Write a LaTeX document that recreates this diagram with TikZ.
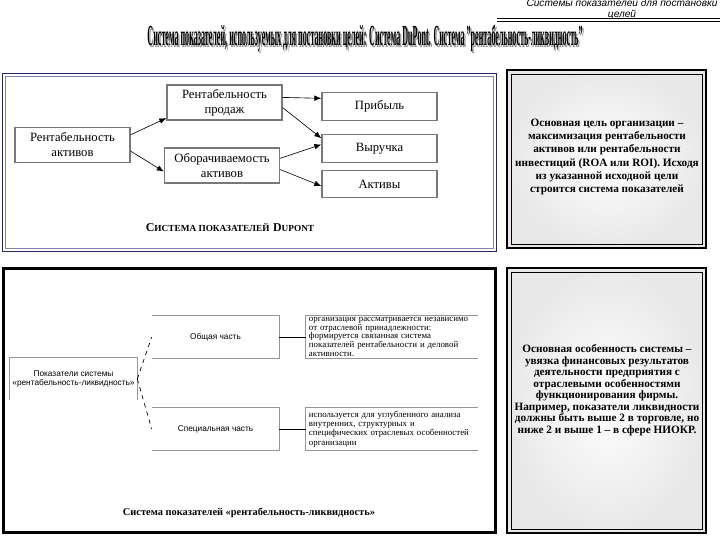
\documentclass[tikz,border=0pt]{standalone}
\usepackage{fontspec}
\setmainfont{Liberation Serif}
\setsansfont{Liberation Sans}
\usepackage{graphicx}
\usepackage{xcolor}
\definecolor{panelnavy}{RGB}{38,38,96}
\definecolor{panelslate}{RGB}{130,130,170}
\definecolor{boxgray}{RGB}{120,120,120}
\definecolor{linegray}{RGB}{150,150,150}
\definecolor{shadegray}{RGB}{232,232,232}
\definecolor{titleshade}{RGB}{150,150,150}
\usepackage{tikz}
\usetikzlibrary{arrows.meta, positioning}

\newcommand{\dpcaps}[2]{{\fontsize{8.5}{8.5}\selectfont #1}{\fontsize{6.6}{6.6}\selectfont #2}}

\tikzset{
  dpbox/.style={draw=boxgray, line width=0.9pt, minimum width=2.875cm, minimum height=0.875cm,
    align=center, inner sep=0pt, font=\fontsize{9}{10.7}\selectfont},
  dpsmall/.style={dpbox, minimum height=0.69cm},
  dparrow/.style={-{Latex[length=5pt,width=4pt]}, line width=0.45pt},
  rlbox/.style={minimum width=3.175cm, minimum height=1.05cm, align=center, inner sep=0pt,
    font=\sffamily\fontsize{5.9}{7.1}\selectfont},
  rltext/.style={minimum width=4.3cm, minimum height=1.05cm, text width=4.15cm, align=left,
    inner sep=1.5pt, font=\fontsize{6.3}{5.8}\selectfont},
  rlline/.style={draw=linegray, line width=0.5pt},
  notetext/.style={align=center, inner sep=0pt, font=\bfseries\fontsize{8}{9.5}\selectfont},
  panelblack/.style={draw=black, line width=2.1pt},
}

\begin{document}
\begin{tikzpicture}[x=0.025cm, y=-0.025cm]
  \useasboundingbox (0,0) rectangle (720,540);

  % Header
  \node[font=\sffamily\itshape\fontsize{7.2}{7.8}\selectfont, align=center] (header) at (622,9.5)
    {Системы показателей для постановки\\целей};
  \draw[line width=0.9pt] (497,18.5) -- (720,18.5);
  \draw[line width=0.5pt] (497,21.5) -- (720,21.5);

  \node[text=titleshade, font=\bfseries] (titleshadow) at (366.5,40)
    {\resizebox{10.875cm}{0.52cm}{Система показателей, используемых для постановки целей: Система DuPont. Система "рентабельность-ликвидность"}};
  \node[font=\bfseries] (title) at (365,38.5)
    {\resizebox{10.875cm}{0.52cm}{Система показателей, используемых для постановки целей: Система DuPont. Система "рентабельность-ликвидность"}};

  % Panels
  \draw[draw=panelnavy, line width=1.4pt] (2.5,73.5) rectangle (496.5,251.5);
  \draw[draw=panelslate, line width=0.5pt] (5.5,76.5) rectangle (493.5,248.5);

  \shade[inner color=white, outer color=shadegray] (507,70) rectangle (706,248);
  \draw[panelblack] (507,70) rectangle (706,248);
  \draw[line width=0.4pt] (511,74) rectangle (702,244);

  \draw[panelblack] (3.5,268.5) rectangle (495.5,532.5);

  \shade[inner color=white, outer color=shadegray] (507,268) rectangle (706,533);
  \draw[panelblack] (507,268) rectangle (706,533);
  \draw[line width=0.4pt] (511,272) rectangle (702,529);

  % DuPont system
  \node[dpbox] (ra) at (72.5,145) {Рентабельность\\активов};
  \node[dpbox] (rp) at (224.5,102.5) {Рентабельность\\продаж};
  \node[dpbox] (oa) at (222,165.5) {Оборачиваемость\\активов};
  \node[dpsmall] (pr) at (379.5,106.5) {Прибыль};
  \node[dpsmall] (vy) at (379.5,148.5) {Выручка};
  \node[dpsmall] (ak) at (379.5,184) {Активы};

  \draw[dparrow] (ra.10) -- (rp.195);
  \draw[dparrow] (ra.-6) -- (oa.186);
  \draw[dparrow] (rp.5) -- (pr.172);
  \draw[dparrow] (rp.-5) -- (vy.170);
  \draw[dparrow] (oa.7) -- (vy.176);
  \draw[dparrow] (oa.-4) -- (ak.182);

  \node[font=\bfseries] (dpcaption) at (230,228)
    {\dpcaps{С}{ИСТЕМА ПОКАЗАТЕЛЕЙ} \dpcaps{D}{UPONT}};

  \node[notetext] (dpnote) at (607,157)
    {Основная цель организации --\\максимизация рентабельности\\активов или рентабельности\\инвестиций (ROA или ROI). Исходя\\из указанной исходной цели\\строится система показателей};

  % Profitability-liquidity system
  \node[rlbox] (pk) at (73.5,379) {Показатели системы\\«рентабельность-ликвидность»};
  \node[rlbox] (ob) at (215.5,337) {Общая часть};
  \node[rlbox] (sp) at (215.5,429) {Специальная часть};
  \node[rltext] (t1) at (392,337)
    {организация рассматривается независимо\\от отраслевой принадлежности:\\формируется связанная система\\показателей рентабельности и деловой\\активности.};
  \node[rltext, font=\fontsize{6.3}{6.7}\selectfont] (t2) at (392,429)
    {используется для углубленного анализа\\внутренних, структурных и\\специфических отраслевых особенностей\\организации};

  \draw[rlline] (pk.south west) -- (pk.north west) -- (pk.north east) -- (pk.south east);
  \draw[rlline] (ob.north west) -- (ob.north east) -- (ob.south east) -- (ob.south west);
  \draw[rlline] (sp.north west) -- (sp.north east) -- (sp.south east) -- (sp.south west);
  \draw[rlline] (t1.north east) -- (t1.north west) -- (t1.south west) -- (t1.south east);
  \draw[rlline] (t2.north east) -- (t2.north west) -- (t2.south west) -- (t2.south east);

  \draw[dashed, line width=0.5pt] (pk.east) -- (ob.west);
  \draw[dashed, line width=0.5pt] (pk.east) -- (sp.west);
  \draw[line width=0.6pt] (ob.east) -- (t1.west);
  \draw[line width=0.6pt] (sp.east) -- (t2.west);

  \node[font=\bfseries\fontsize{7.4}{7.4}\selectfont] (rlcaption) at (249,513)
    {Система показателей «рентабельность-ликвидность»};

  \node[notetext, font=\bfseries\fontsize{8}{8.2}\selectfont] (rlnote) at (607,390)
    {Основная особенность системы --\\увязка финансовых результатов\\деятельности предприятия с\\отраслевыми особенностями\\функционирования фирмы.\\Например, показатели ликвидности\\должны быть выше 2 в торговле, но\\ниже 2 и выше 1 -- в сфере НИОКР.};
\end{tikzpicture}
\end{document}
